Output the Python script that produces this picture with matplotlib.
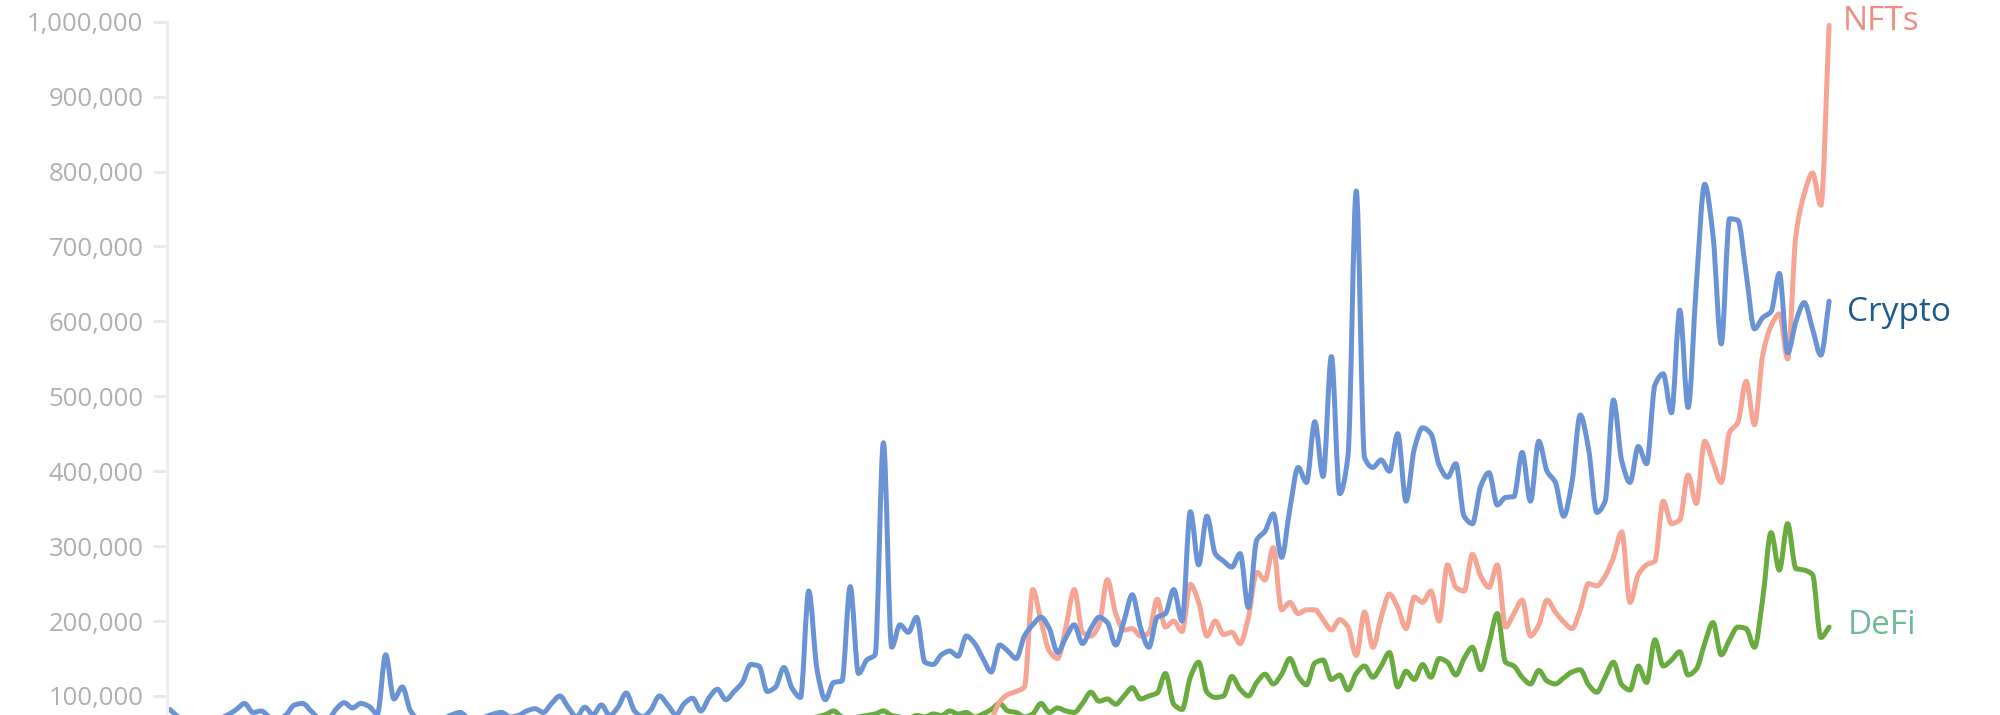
import matplotlib
matplotlib.use("Agg")
import matplotlib.pyplot as plt
from matplotlib.ticker import FuncFormatter
from matplotlib.path import Path
from matplotlib.patches import PathPatch
import numpy as np

plt.rcParams['font.family'] = ['Open Sans', 'DejaVu Sans']

# weekly values, in thousands (the chart is cropped below ~75k)
crypto = [82, 72, 65, 65, 66, 68, 70, 75, 82, 90, 78, 80, 72, 68, 75, 88, 90, 80, 70, 68,
          82, 91, 84, 90, 86, 76, 155, 96, 112, 80, 68, 65, 66, 70, 75, 78, 70, 68, 72, 76,
          78, 72, 74, 80, 83, 78, 90, 100, 85, 72, 85, 75, 88, 74, 85, 104, 80, 72, 82, 100,
          88, 75, 90, 97, 80, 98, 109, 95, 106, 118, 142, 140, 106, 112, 138, 110, 98, 240, 135, 95,
          118, 120, 246, 130, 148, 155, 438, 165, 195, 185, 205, 145, 142, 155, 160, 153, 180, 170, 150, 132,
          168, 160, 150, 180, 195, 205, 190, 158, 178, 195, 170, 190, 205, 198, 168, 200, 235, 191, 165, 205,
          210, 242, 200, 346, 275, 340, 290, 280, 272, 290, 218, 308, 320, 343, 285, 350, 405, 385, 466, 393,
          553, 370, 420, 774, 418, 405, 415, 400, 450, 360, 430, 458, 450, 408, 392, 410, 340, 330, 380, 398,
          355, 365, 366, 425, 360, 440, 400, 385, 340, 385, 475, 430, 345, 360, 495, 414, 385, 433, 410, 515,
          530, 478, 615, 485, 650, 783, 715, 570, 737, 735, 664, 590, 605, 613, 664, 558, 600, 625, 590, 555,
          627]

nft_start = 95
nfts = [50, 55, 58, 62, 70, 92, 102, 106, 112, 242, 200, 160, 150, 192, 242, 185, 180, 195, 255, 210,
        188, 190, 180, 184, 229, 192, 200, 186, 249, 225, 180, 200, 182, 185, 170, 205, 265, 255, 298, 215,
        225, 210, 215, 215, 202, 188, 202, 192, 154, 212, 165, 205, 236, 218, 190, 232, 225, 240, 200, 275,
        245, 240, 289, 260, 245, 275, 192, 210, 228, 180, 195, 228, 212, 199, 190, 215, 250, 247, 260, 285,
        319, 225, 262, 275, 280, 360, 330, 335, 395, 357, 440, 412, 385, 452, 465, 520, 462, 555, 594, 610,
        550, 715, 770, 798, 755, 995]

defi_start = 70
defi = [60, 62, 65, 68, 70, 68, 66, 70, 72, 75, 80, 72, 70, 72, 74, 76, 80, 74, 72, 70,
        74, 72, 76, 74, 80, 76, 78, 72, 76, 82, 90, 80, 78, 72, 76, 90, 78, 84, 80, 78,
        90, 105, 93, 96, 89, 100, 111, 96, 100, 104, 130, 89, 82, 125, 145, 105, 98, 100, 126, 109,
        100, 118, 129, 116, 129, 150, 126, 115, 144, 148, 122, 128, 108, 130, 140, 125, 140, 158, 112, 133,
        122, 142, 125, 150, 145, 128, 150, 165, 135, 170, 210, 145, 140, 125, 116, 134, 120, 116, 124, 132,
        135, 115, 105, 125, 145, 115, 108, 140, 118, 175, 140, 148, 159, 128, 136, 170, 198, 155, 175, 192,
        190, 165, 230, 318, 268, 330, 270, 268, 262, 178, 192]

series_names = ["NFTs", "Crypto", "DeFi"]
label_colors = ["#ef8d80", "#1e5a8c", "#6dba98"]
line_colors = {"Crypto": "#6a93d6", "NFTs": "#f6a493", "DeFi": "#6aab40"}


def monotone_path(x, y):
    # monotone cubic (like d3.curveMonotoneX) drawn as bezier segments
    x = np.asarray(x, float)
    y = np.asarray(y, float)
    h = np.diff(x)
    d = np.diff(y) / h
    m = np.zeros_like(y)
    m[0], m[-1] = d[0], d[-1]
    for i in range(1, len(y) - 1):
        if d[i - 1] * d[i] <= 0:
            m[i] = 0
        else:
            m[i] = 2 / (1 / d[i - 1] + 1 / d[i])
    verts = [(x[0], y[0])]
    codes = [Path.MOVETO]
    for i in range(len(x) - 1):
        t = h[i] / 3
        verts += [(x[i] + t, y[i] + m[i] * t), (x[i + 1] - t, y[i + 1] - m[i + 1] * t), (x[i + 1], y[i + 1])]
        codes += [Path.CURVE4] * 3
    return Path(verts, codes)


x_c = np.arange(len(crypto))
x_n = np.arange(nft_start, nft_start + len(nfts))
x_d = np.arange(defi_start, defi_start + len(defi))

fig = plt.figure(figsize=(20, 7.15), dpi=100)
ax = fig.add_axes([167 / 2000, 0, 1 - 167 / 2000, 1])

lw = 3.6
for xs, ys, name in [(x_d, defi, "DeFi"), (x_n, nfts, "NFTs"), (x_c, crypto, "Crypto")]:
    p = monotone_path(xs, np.array(ys) * 1000)
    ax.add_patch(PathPatch(p, fill=False, edgecolor=line_colors[name], lw=lw,
                           joinstyle='round', capstyle='round'))

ax.set_xlim(-0.36, 220.6)
ax.set_ylim(74600, 1028960)

ax.set_yticks(np.arange(100000, 1000001, 100000))
ax.yaxis.set_major_formatter(FuncFormatter(lambda v, p: "{:,.0f}".format(v)))
ax.tick_params(axis='y', length=10, width=2, color='#e8e8e8', labelcolor='#b0b0b0',
               labelsize=18.5, pad=7)
ax.set_xticks([])
for s in ['top', 'right', 'bottom']:
    ax.spines[s].set_visible(False)
ax.spines['left'].set_color('#eeeeee')
ax.spines['left'].set_linewidth(2.2)
ax.spines['left'].set_bounds(74600, 1000000)

# end labels
last = len(crypto) - 1
label_y = [989500, 600500, 182600]
label_dx = [1.6, 2.2, 2.3]
for name, c, y, dx in zip(series_names, label_colors, label_y, label_dx):
    ax.text(last + dx, y, name, color=c, fontsize=24, va='baseline', ha='left')

fig.savefig("out.png", dpi=100)
